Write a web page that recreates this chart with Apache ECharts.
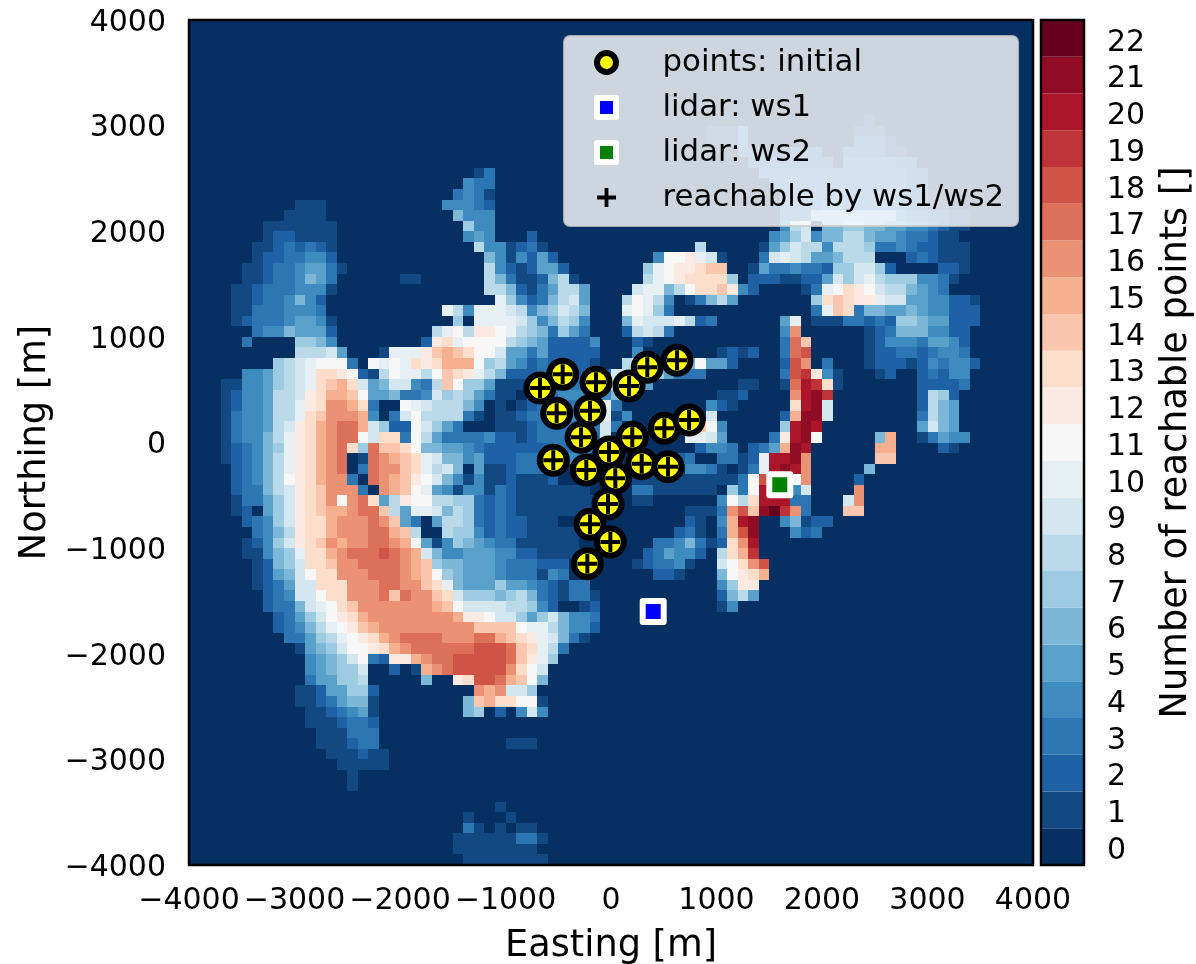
<!DOCTYPE html>
<html>
<head>
<meta charset="utf-8">
<style>html,body{margin:0;padding:0;background:#fff}#chart{width:1196px;height:964px}</style>
<script src="https://cdn.jsdelivr.net/npm/echarts@6/dist/echarts.min.js"></script>
</head>
<body>
<div id="chart"></div>
<script>
// Number of reachable points per 100 m cell, row 0 = northernmost.
// Each row: "startColumn:values" segments; values are base-36 digits (a=10 ... m=22); gaps are 0.
const reachableRows = [
"","","","","","","","","",
"64:1",
"49:1113 63:111",
"49:1113 63:2221",
"52:22111222 62:222211",
"53:22222222 62:3333322",
"27:13 54:33333333 62:33333322",
"26:433 55:333333333333322",
"25:3431 56:333333333333221",
"10:111 24:44432 56:3333443333332211",
"9:1111 25:6444 56:333666666664332211",
"7:1111111 26:744 56:489066776655443211",
"7:1221111 26:454 32:2 55:457946688655433211",
"6:11232321 27:8441231 48:8 54:15798848887334322111",
"6:12233442 28:6414252 44:4bbca91 54:39a98556888000232111",
"5:1123345531 28:84212552 43:7abccdee 53:153343327799720000221",
"5:112334653 20:11 28:863112681 43:8abcdddd70 53:22211225979a87774431",
"4:1123334441 28:8862135885 42:9aa68bddec42 58:13abdcb9886543",
"4:112334642 29:a74236895 41:8ba84013685 59:7dedcca995544221",
"4:113334443 24:a84aaa98467986 41:aba73 59:3aed366556544222",
"4:1233345541 25:70aaaa9746874 41:6a999a823 56:5a 59:1113323277655222",
"6:34465552 23:8ab8ccba8763753 41:28983 56:4g 64:1236664422",
"5:3 10:7764 22:2cdabbbb876522224 42:21 56:3he 64:1244435542",
"10:88895 18:1aaacefedbb9553522222 42:4 50:1212 56:3hi 64:1223323443",
"8:789abbb3 17:babadcdfffb78542322221 41:8999636b552 56:2ig 60:3 64:12221243442",
"5:44578 10:9addc 15:b218b 20:aa8be 25:dca86 30:22233 35:22222 40:99997 45:5333 56:3ijc41 65:12 69:23244",
"3:11 5:44578 10:9adef 15:d9569 20:9438e 25:b7751 30:11223 35:33333 40:9995 52:11 56:1hkjd1 69:22223",
"3:12 5:44588 10:9cdff 15:eb556 20:33497 25:87531 30:10333 35:44444 40:65 50:112 57:gklj 69:2872",
"3:12 5:44588 10:acdgg 15:fd300 20:ba988 25:8640 29:1 30:01233 35:3334a3 49:421 57:dkl9 69:2865",
"3:13 5:44588 10:adegg 15:gf403 20:9b888 25:831 29:11233 34:33444 39:a14 49:9 56:2fll9 69:3865",
"3:13 5:44589 10:cdfgh 15:hf972 20:2b975 25:3 29:111 32:23333 37:33 39:93 48:eb4 56:7klk 69:5965",
"3:13 5:44 7:68acd 12:fghhb 17:9dd3b 22:85333 27:342 30:21 32:23333 37:33 39:9 47:aa95 55:3cklb 65:6f 69:13544",
"3:12346 8:7acdf 13:ghd7h 18:eedb6 23:65543 28:22222 33:2333 37:33 39:55 48:2443 53:235flk 65:ff 71:21",
"3:12346 8:8acdf 13:gh01h 18:gfeda 23:96645 28:22233 33:34444 46:23 50:33 52:12akklg 65:ee",
"4:23468 9:acdfg 14:h03hg 19:geda8 24:96051 29:12333 34:4 47:44 49:31013aklkg 64:6",
"4:23468 9:bcdfg 14:g30hg 19:fecb9 24:64141 29:12111 34:2 42:1111111 49:111 52:3bikkbg 63:2",
"4:23368 9:9cdeg 14:gg30g 19:feba5 24:41441 29:32111 34:1111 42:33 44:1111 48:11 51:73bkkk49 63:g",
"4:13357 9:9cdeg 14:bghd5 19:8cbb8 24:87732 29:32111 34:11111 39:1 42:11 50:4b8dkkk33 62:9g",
"4:12057 9:9cdef 14:fghhe 19:85aa9 24:68732 29:32111 34:11111 39:1 47:11 49:13gielmjg3 62:ee",
"5:23479 10:cddfg 15:gghge 20:53058 25:87323 30:22111 47:21 50:4fkl 56:46122",
"6:3468 10:cddfg 15:gghhf 20:e8008 25:77423 30:22111 35:111 46:231 50:3fil 57:423",
"5:12479 10:cdegf 15:gghhg 20:fb514 25:76543 30:31111 35:11 44:33463 49:12dgk",
"5:11467 10:addfg 15:hhhih 20:gf964 25:45554 30:42211 35:111 43:235442 50:8dfj",
"6:1267 10:9ddeg 15:ghhhh 20:gfe76 25:65554 30:33322 35:2 42:123341 50:9bdgi",
"6:1256 10:9bddg 15:gghhh 20:gfeb7 25:65554 30:33314 35:3 44:221 50:6bcdf",
"6:1235 10:99ddd 15:ggghh 20:ggeda 25:65557 30:55432 35:133 50:47cc",
"7:234 10:99bdd 15:ggghe 20:hgged 25:97776 30:78632 35:1331 50:2685",
"7:233 10:69abd 15:egggg 20:gggfe 25:b9999 30:88742 37:12 50:14",
"8:23 10:579bc 15:dfggg 20:ggggg 25:fccb9 30:97579 35:6443",
"8:23 10:468ab 15:cefgg 20:ggggg 25:ggeee 30:ebaa8 35:6442",
"9:3 10:3578a 15:bcdfg 20:hhhhg 25:gghhf 30:edca9 35:631",
"10:15679 15:bbcdf 20:ghhhh 25:hhiii 30:heda8 35:3",
"11:4567 15:9b32c 20:cfghh 25:iiiii 30:heca7",
"11:4567 15:79 19:2 21:1fgh 25:iiiii 30:gdb9",
"11:355778 22:6 25:cdii 29:hfeb6",
"10:11255 15:772 27:gfg997",
"10:11235 15:661 26:6efddbb1",
"11:11 13:2345 17:1 26:67 29:2 31:494",
"11:1112 15:332",
"12:111 15:333",
"12:111 15:233 30:111",
"13:111 16:211",
"14:11111",
"15:1",
"15:1",
"",
"29:1",
"26:1 30:1",
"26:31 29:1 31:11",
"25:111111 31:331",
"25:11111111",
"26:11111111"
];
const cellSize = 100;
const gridMin = -4000;
const levels = ["0","1","2","3","4","5","6","7","8","9","10","11","12","13","14","15","16","17","18","19","20","21","22"];
const levelColors = ["#053061","#124983","#1e61a5","#2d76b4","#3d8bbf","#59a1ca","#7cb7d7","#9dcbe1","#bad9e9","#d4e7f1","#e6eff4","#f7f7f7","#faeae1","#fcdecb","#fac7ae","#f6af8f","#ec9274","#dd7059","#cf5347","#bf3237","#ab162a","#900b24","#67001f"];
const pointEastings = [-673,-458,-142,171,344,626,-515,-199,-284,202,506,740,-547,-234,-19,291,41,540,-28,-199,-6,-224];
const pointNorthings = [516,646,570,535,712,778,277,301,49,49,135,213,-168,-260,-90,-200,-339,-229,-582,-774,-942,-1147];
const ws1 = [400,-1600];
const ws2 = [1600,-400];

const FONT = "DejaVu Sans";
const TICK = 30;
const NAME = 36.7;
const PLUS = "path://M8,0h4v8h8v4h-8v8h-4v-8h-8v-4h8z";
const SQUARE = "path://M0,0h10v10h-10z";

const heatData = [];
reachableRows.forEach((row, r) => {
  const vals = new Array(80).fill(0);
  row.split(" ").filter(Boolean).forEach(seg => {
    const [start, chars] = seg.split(":");
    [...chars].forEach((ch, k) => { vals[+start + k] = parseInt(ch, 36); });
  });
  vals.forEach((v, c) => {
    heatData.push([gridMin + cellSize * c, -gridMin - cellSize * r, v]);
  });
});
const pointData = pointEastings.map((e, i) => [e, pointNorthings[i]]);
const minus = v => String(v).replace("-", "\u2212");

const chart = echarts.init(document.getElementById("chart"), null, {renderer: "canvas"});
chart.setOption({
  animation: false,
  backgroundColor: "#fff",
  textStyle: {fontFamily: FONT},
  grid: [
    {left: 189, top: 20, width: 844, height: 845, outerBoundsMode: "none", containLabel: false, show: true, borderColor: "#000", borderWidth: 2.5, backgroundColor: "transparent", z: 5},
    {left: 1041, top: 20, width: 43, height: 845, outerBoundsMode: "none", containLabel: false, show: true, borderColor: "#000", borderWidth: 2.5, backgroundColor: "transparent", z: 5}
  ],
  xAxis: [
    {type: "value", gridIndex: 0, min: -4000, max: 4000, interval: 1000, name: "Easting [m]", nameLocation: "middle", nameGap: 63,
     nameTextStyle: {fontSize: NAME, color: "#000", fontFamily: FONT},
     axisLine: {show: false}, splitLine: {show: false},
     axisTick: {show: true, length: 11, lineStyle: {color: "#000", width: 2}},
     axisLabel: {fontSize: TICK, color: "#000", margin: 21, fontFamily: FONT, showMinLabel: true, showMaxLabel: true, hideOverlap: false, formatter: minus}},
    {type: "value", gridIndex: 1, min: 0, max: 1, show: false}
  ],
  yAxis: [
    {type: "value", gridIndex: 0, min: -4000, max: 4000, interval: 1000, name: "Northing [m]", nameLocation: "middle", nameGap: 135,
     nameTextStyle: {fontSize: NAME, color: "#000", fontFamily: FONT},
     axisLine: {show: false}, splitLine: {show: false},
     axisTick: {show: true, length: 11, lineStyle: {color: "#000", width: 2}},
     axisLabel: {fontSize: TICK, color: "#000", margin: 23, fontFamily: FONT, verticalAlign: "top", lineHeight: 6, formatter: minus}},
    {type: "category", gridIndex: 1, data: levels, position: "right", name: "Number of reachable points []", nameLocation: "middle", nameGap: 74, nameRotate: 90,
     nameTextStyle: {fontSize: NAME, color: "#000", fontFamily: FONT},
     axisLine: {show: false}, splitLine: {show: false},
     axisTick: {show: true, alignWithLabel: true, length: 11, lineStyle: {color: "#000", width: 2}},
     axisLabel: {fontSize: TICK, color: "#000", margin: 23, fontFamily: FONT, interval: 0, verticalAlign: "top", lineHeight: 9}}
  ],
  legend: {
    left: 564, top: 36, orient: "vertical", align: "left", z: 10,
    backgroundColor: "rgba(255,255,255,0.8)", borderColor: "rgba(204,204,204,0.8)", borderWidth: 2, borderRadius: 6,
    padding: [9, 14, 11, 30], itemWidth: 60, itemHeight: 19, itemGap: 10,
    selectedMode: false,
    textStyle: {fontSize: 30.8, color: "#000", fontFamily: FONT, padding: [0, 0, 0, 21], lineHeight: 35},
    data: [
      {name: "points: initial", icon: "circle", itemStyle: {color: "#ffff00", borderColor: "#000", borderWidth: 6}},
      {name: "lidar: ws1", icon: SQUARE, itemStyle: {color: "#0000ff", borderColor: "#fff", borderWidth: 6, borderJoin: "round"}},
      {name: "lidar: ws2", icon: SQUARE, itemStyle: {color: "#008000", borderColor: "#fff", borderWidth: 6, borderJoin: "round"}},
      {name: "reachable by ws1/ws2", icon: PLUS, itemStyle: {color: "#000", borderWidth: 0}}
    ]
  },
  series: [
    {
      type: "custom", name: "reachable", xAxisIndex: 0, yAxisIndex: 0, silent: true, progressive: 0, z: 1,
      data: heatData, encode: {x: 0, y: 1},
      renderItem: (params, api) => {
        const x = api.value(0), y = api.value(1), v = api.value(2);
        const a = api.coord([x, y]);
        const b = api.coord([x + cellSize, y - cellSize]);
        const x0 = Math.round(a[0]), y0 = Math.round(a[1]);
        return {type: "rect", shape: {x: x0, y: y0, width: Math.round(b[0]) - x0, height: Math.round(b[1]) - y0}, style: {fill: levelColors[v]}};
      }
    },
    {
      type: "bar", name: "colorbar", xAxisIndex: 1, yAxisIndex: 1, silent: true, barWidth: "100%", z: 1,
      data: levels.map((l, i) => ({value: 1, itemStyle: {color: levelColors[i]}}))
    },
    {
      type: "scatter", name: "points: initial", xAxisIndex: 0, yAxisIndex: 0, symbol: "circle", symbolSize: 27, z: 6,
      itemStyle: {color: "#ffff00", borderColor: "#000", borderWidth: 6, opacity: 1}, data: pointData
    },
    {
      type: "scatter", name: "lidar: ws1", xAxisIndex: 0, yAxisIndex: 0, symbol: "rect", symbolSize: 21, z: 6,
      itemStyle: {color: "#0000ff", borderColor: "#fff", borderWidth: 6, borderJoin: "round", opacity: 1}, data: [ws1]
    },
    {
      type: "scatter", name: "lidar: ws2", xAxisIndex: 0, yAxisIndex: 0, symbol: "rect", symbolSize: 21, z: 6,
      itemStyle: {color: "#008000", borderColor: "#fff", borderWidth: 6, borderJoin: "round", opacity: 1}, data: [ws2]
    },
    {
      type: "scatter", name: "reachable by ws1/ws2", xAxisIndex: 0, yAxisIndex: 0, symbol: PLUS, symbolSize: 20, z: 7,
      itemStyle: {color: "#000", opacity: 1}, data: pointData
    }
  ]
});
</script>
</body>
</html>
